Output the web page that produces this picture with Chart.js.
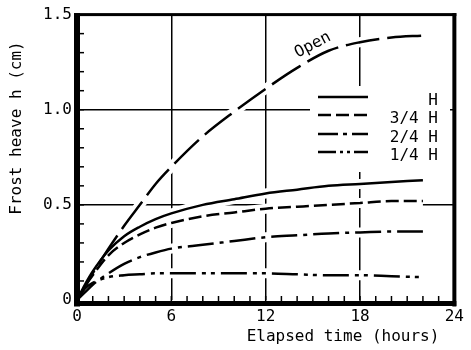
<!DOCTYPE html>
<html><head><meta charset="utf-8">
<script src="https://cdn.jsdelivr.net/npm/chart.js@4/dist/chart.umd.min.js"></script>
<style>html,body{margin:0;padding:0;background:#fff}</style>
</head><body>
<canvas id="c" width="471" height="350"></canvas>
<script>
const hours = [0, 0.5, 1, 2, 3, 4, 5, 6, 8, 10, 12, 14, 16, 18, 20, 22];
const openVals = [0, 0.07, 0.14, 0.27, 0.39, 0.50, 0.61, 0.70, 0.86, 0.99, 1.11, 1.22, 1.31, 1.355, 1.38, 1.39];
const hFull    = [0, 0.08, 0.15, 0.26, 0.335, 0.385, 0.425, 0.455, 0.50, 0.53, 0.56, 0.58, 0.60, 0.61, 0.62, 0.63];
const h34      = [0, 0.07, 0.13, 0.235, 0.30, 0.345, 0.38, 0.405, 0.44, 0.46, 0.48, 0.49, 0.50, 0.51, 0.52, 0.52];
const h24      = [0, 0.04, 0.08, 0.14, 0.19, 0.225, 0.25, 0.27, 0.29, 0.31, 0.33, 0.34, 0.35, 0.355, 0.36, 0.36];
const h14      = [0, 0.06, 0.09, 0.12, 0.13, 0.135, 0.14, 0.14, 0.14, 0.14, 0.14, 0.135, 0.13, 0.13, 0.125, 0.12];
const seriesLabels = ['Open', 'H', '3/4 H', '2/4 H', '1/4 H'];
const xTickLabels = ['0', '6', '12', '18', '24'];
const yTickLabels = ['0', '0.5', '1.0', '1.5'];

const FONT = 'DejaVu Sans Mono';
const dashes = [[34, 8], [], [13, 5], [26, 6, 4, 6], [26, 6, 4, 5, 4, 6]];
const legendDashes = [[], [13, 5], [20, 5, 4, 5], [18, 4, 3, 4, 3, 4]];
const allSeries = [openVals, hFull, h34, h24, h14];

const datasets = allSeries.map((arr, i) => ({
  label: seriesLabels[i],
  data: hours.map((x, j) => ({x: x, y: arr[j]})),
  borderColor: '#000',
  borderWidth: 2.5,
  borderDash: dashes[i],
  borderCapStyle: 'butt',
  pointRadius: 0,
  fill: false,
  cubicInterpolationMode: 'monotone'
}));

function tracePath(ctx, pts) {
  ctx.beginPath();
  ctx.moveTo(pts[0].x, pts[0].y);
  for (let i = 1; i < pts.length; i++) {
    const p = pts[i - 1], c = pts[i];
    if (p.cp2x !== undefined && c.cp1x !== undefined) {
      ctx.bezierCurveTo(p.cp2x, p.cp2y, c.cp1x, c.cp1y, c.x, c.y);
    } else ctx.lineTo(c.x, c.y);
  }
}

const deco = {
  id: 'deco',
  beforeDatasetsDraw(chart) {
    const ctx = chart.ctx;
    ctx.save();
    ctx.fillStyle = '#fff';
    ctx.fillRect(310, 86, 140, 86);
    chart.data.datasets.forEach((ds, i) => {
      const meta = chart.getDatasetMeta(i);
      tracePath(ctx, meta.data);
      ctx.strokeStyle = '#fff';
      ctx.lineWidth = 10;
      ctx.setLineDash([]);
      ctx.stroke();
    });
    ctx.restore();
  },
  afterDatasetsDraw(chart) {
    const ctx = chart.ctx, ca = chart.chartArea;
    const xs = chart.scales.x, ys = chart.scales.y;
    ctx.save();
    ctx.fillStyle = '#000';
    ctx.fillRect(ca.left - 3, ca.top - 1.5, 6, ca.bottom - ca.top + 8);
    ctx.fillRect(ca.left - 3, ca.bottom + 1, ca.right - ca.left + 5, 5);
    ctx.fillRect(ca.left - 3, ca.top - 1.5, ca.right - ca.left + 5, 3);
    ctx.fillRect(ca.right - 2, ca.top - 1.5, 4, ca.bottom - ca.top + 8);
    ctx.strokeStyle = '#000';
    ctx.lineWidth = 1.5;
    ctx.setLineDash([]);
    for (let t = 1; t < 24; t++) {
      const px = xs.getPixelForValue(t);
      ctx.beginPath(); ctx.moveTo(px, ca.bottom + 1); ctx.lineTo(px, ca.bottom - 4); ctx.stroke();
    }
    for (let k = 1; k < 15; k++) {
      const py = ys.getPixelForValue(k / 10);
      ctx.beginPath(); ctx.moveTo(ca.left + 2, py); ctx.lineTo(ca.left + 7, py); ctx.stroke();
    }
    const rows = [97, 115, 134, 152];
    ctx.font = '16px "' + FONT + '"';
    ctx.textAlign = 'right';
    ctx.textBaseline = 'middle';
    for (let r = 0; r < 4; r++) {
      ctx.beginPath();
      ctx.setLineDash(legendDashes[r]);
      ctx.lineWidth = 2.5;
      ctx.moveTo(318, rows[r]); ctx.lineTo(368, rows[r]);
      ctx.stroke();
      ctx.fillText(seriesLabels[r + 1], 438, rows[r] + 4);
    }
    ctx.setLineDash([]);
    ctx.save();
    ctx.translate(xs.getPixelForValue(15), ys.getPixelForValue(1.34));
    ctx.rotate(-28 * Math.PI / 180);
    ctx.textAlign = 'center';
    ctx.fillText(seriesLabels[0], 0, 0);
    ctx.restore();
    ctx.textAlign = 'center';
    ctx.fillText('Elapsed time (hours)', 343, 337);
    ctx.save();
    ctx.translate(17, 128);
    ctx.rotate(-Math.PI / 2);
    ctx.fillText('Frost heave h (cm)', 0, 0);
    ctx.restore();
    ctx.restore();
  }
};

new Chart(document.getElementById('c'), {
  type: 'line',
  data: { datasets: datasets },
  options: {
    responsive: false,
    animation: false,
    layout: { padding: { top: 14, right: 4, left: 0, bottom: 0 } },
    plugins: { legend: { display: false }, tooltip: { enabled: false } },
    scales: {
      x: {
        type: 'linear', min: 0, max: 24,
        afterFit: s => { s.height = 50; },
        border: { display: false },
        grid: {
          drawTicks: false,
          lineWidth: 1.5,
          color: c => (c.tick && (c.tick.value === 0 || c.tick.value === 24)) ? 'rgba(0,0,0,0)' : '#000'
        },
        ticks: {
          stepSize: 6, padding: 7, color: '#000', maxRotation: 0,
          font: { family: FONT, size: 16 },
          callback: (v) => xTickLabels[Math.round(v / 6)]
        }
      },
      y: {
        type: 'linear', min: 0, max: 1.5,
        afterFit: s => { s.width = 77; },
        border: { display: false },
        grid: {
          drawTicks: false,
          lineWidth: 1.5,
          color: c => (c.tick && (c.tick.value === 0 || c.tick.value === 1.5)) ? 'rgba(0,0,0,0)' : '#000'
        },
        ticks: {
          stepSize: 0.5, padding: 5, color: '#000',
          font: { family: FONT, size: 16 },
          callback: (v) => yTickLabels[Math.round(v * 2)]
        }
      }
    }
  },
  plugins: [deco]
});
</script>
</body></html>
